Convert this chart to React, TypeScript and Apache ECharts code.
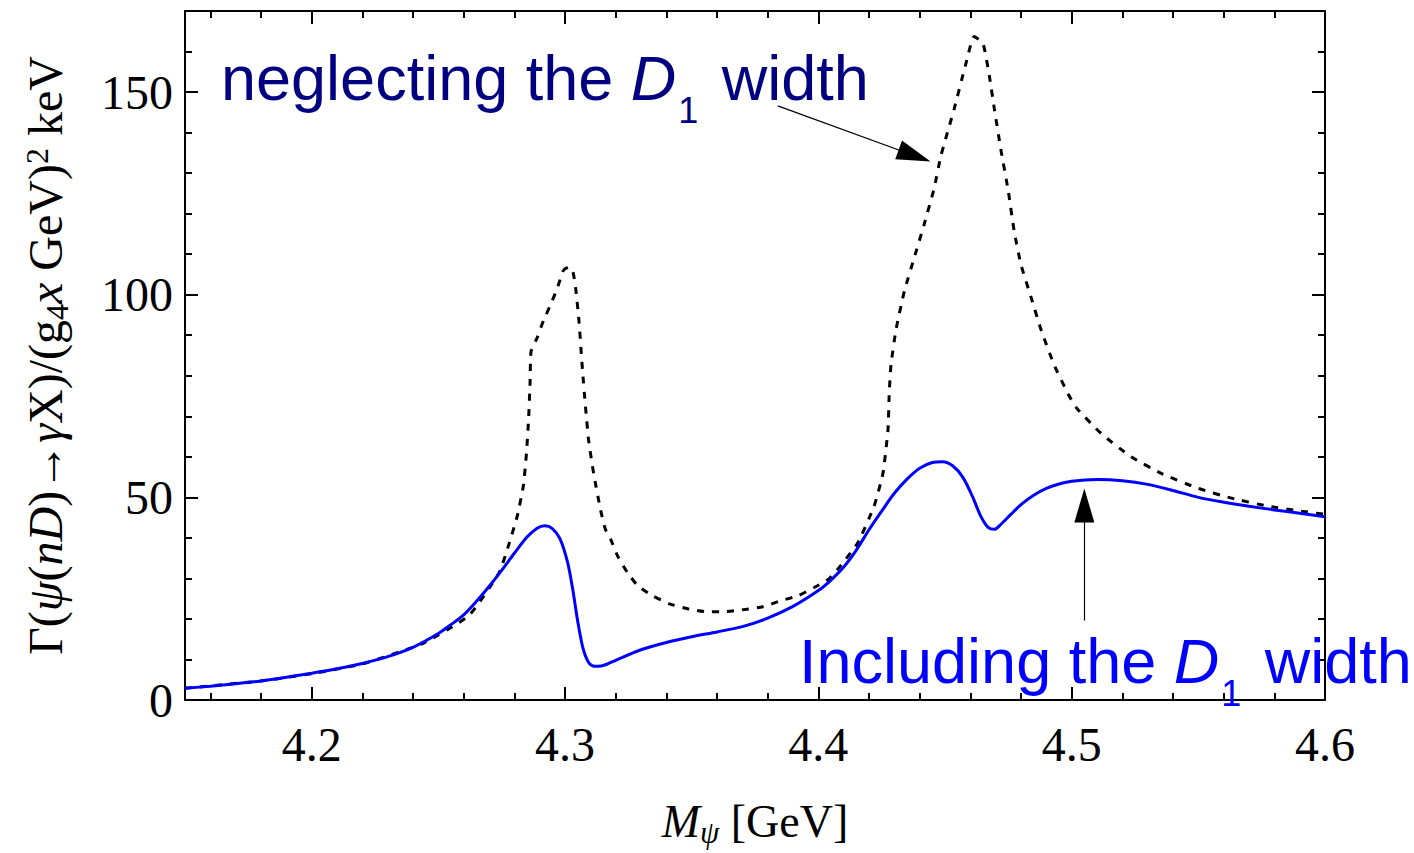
import React, { useEffect, useRef } from "react";
import * as echarts from "echarts";

// Mass values (GeV) and widths for the curve including the D1 width (blue)
const incX = [4.15, 4.16, 4.17, 4.18, 4.19, 4.2, 4.21, 4.22, 4.23, 4.24, 4.25, 4.255, 4.26, 4.265, 4.27, 4.275, 4.28, 4.285, 4.289, 4.292, 4.295, 4.298, 4.301, 4.303, 4.305, 4.307, 4.309, 4.311, 4.313, 4.316, 4.32, 4.33, 4.34, 4.35, 4.36, 4.37, 4.38, 4.39, 4.4, 4.405, 4.41, 4.415, 4.42, 4.425, 4.43, 4.435, 4.44, 4.445, 4.449, 4.453, 4.457, 4.461, 4.464, 4.467, 4.4695, 4.472, 4.476, 4.48, 4.485, 4.49, 4.495, 4.5, 4.51, 4.52, 4.53, 4.54, 4.55, 4.56, 4.57, 4.58, 4.59, 4.6];
const incY = [2.9, 3.4, 4.0, 4.7, 5.6, 6.6, 7.7, 9.0, 10.7, 13.0, 16.4, 18.6, 21.0, 24.3, 28.0, 32.0, 36.2, 40.2, 42.4, 43.0, 42.3, 39.8, 34.0, 27.5, 19.5, 13.0, 9.6, 8.4, 8.3, 8.7, 9.8, 12.4, 14.2, 15.6, 16.8, 18.1, 20.2, 23.1, 27.0, 29.6, 32.8, 37.0, 42.0, 46.6, 51.0, 54.5, 57.2, 58.6, 58.8, 57.8, 55.0, 50.0, 45.5, 42.6, 42.1, 43.3, 45.8, 48.2, 50.5, 52.2, 53.3, 54.0, 54.4, 54.1, 53.2, 51.7, 50.0, 48.8, 47.8, 46.9, 46.1, 45.2];

// Curve neglecting the D1 width (dotted)
const negX = [4.15, 4.18, 4.2, 4.22, 4.244, 4.262, 4.274, 4.278, 4.2812, 4.2836, 4.2848, 4.2856, 4.2862, 4.2866, 4.2891, 4.2915, 4.2943, 4.297, 4.2994, 4.3014, 4.303, 4.3042, 4.3055, 4.3069, 4.3081, 4.3093, 4.3113, 4.314, 4.316, 4.318, 4.3208, 4.3247, 4.3287, 4.3346, 4.3409, 4.3484, 4.3555, 4.3627, 4.3706, 4.378, 4.3852, 4.3919, 4.3982, 4.4042, 4.4081, 4.4155, 4.422, 4.4255, 4.4275, 4.428, 4.4287, 4.4306, 4.434, 4.4378, 4.4417, 4.4457, 4.4484, 4.4536, 4.458, 4.4615, 4.465, 4.4675, 4.4695, 4.472, 4.475, 4.4773, 4.48, 4.484, 4.488, 4.493, 4.4986, 4.502, 4.5117, 4.5235, 4.5354, 4.55, 4.563, 4.5777, 4.5907, 4.6];
const negY = [2.9, 4.7, 6.5, 8.9, 14.0, 20.8, 31.4, 38.7, 45.5, 53.0, 61.0, 69.0, 78.0, 86.0, 89.5, 93.6, 97.5, 101.7, 106.0, 106.8, 106.0, 101.7, 93.6, 81.4, 72.3, 64.2, 55.9, 47.0, 42.0, 39.7, 35.5, 31.4, 28.2, 25.7, 23.8, 22.5, 21.8, 21.8, 22.3, 23.0, 24.5, 25.7, 27.7, 29.9, 32.6, 38.7, 47.8, 55.9, 66.7, 76.0, 82.8, 91.2, 101.0, 109.0, 117.2, 126.2, 134.3, 145.8, 156.4, 163.7, 162.0, 154.0, 145.8, 136.0, 125.5, 115.7, 107.4, 99.3, 91.2, 82.8, 75.5, 72.0, 65.7, 60.0, 55.9, 52.2, 49.8, 47.8, 46.6, 45.8];

// Tick values
const xMajor = [4.2, 4.3, 4.4, 4.5, 4.6];
const xMinor = [4.16, 4.18, 4.22, 4.24, 4.26, 4.28, 4.32, 4.34, 4.36, 4.38, 4.42, 4.44, 4.46, 4.48, 4.52, 4.54, 4.56, 4.58];
const yMajor = [0, 50, 100, 150];
const yMinor = [10, 20, 30, 40, 60, 70, 80, 90, 110, 120, 130, 140, 160];

// Annotation arrows: [tail, arrow-head centre] in data coordinates
const arrowNeglect = [[4.384, 146.6], [4.438, 134.3]];
const arrowInclude = [[4.505, 19.6], [4.505, 48.0]];

const SERIF = '"Liberation Serif", "Times New Roman", Times, serif';
const SANS = '"Liberation Sans", Arial, Helvetica, sans-serif';

export default function App() {
  const ref = useRef<HTMLDivElement>(null);
  useEffect(() => {
    if (!ref.current) return;
    const chart = echarts.init(ref.current, null, { renderer: "svg" });
    const lineCommon = { show: true, onZero: false, lineStyle: { color: "#000", width: 2 } };
    const tickStyle = { color: "#000", width: 2 };
    const xBase = { type: "value", min: 4.15, max: 4.6, splitLine: { show: false } };
    const yBase = { type: "value", min: 0, max: 170, splitLine: { show: false } };
    const noLabel = { show: false };
    const option: any = {
      animation: false,
      backgroundColor: "#fff",
      grid: { left: 185, right: 89, top: 11, bottom: 148, containLabel: false },
      xAxis: [
        {
          ...xBase,
          position: "bottom",
          axisLine: lineCommon,
          axisTick: { show: true, inside: true, length: 13, lineStyle: tickStyle, customValues: xMajor },
          axisLabel: {
            customValues: xMajor,
            formatter: (v: number) => v.toFixed(1),
            margin: 20,
            fontSize: 48,
            fontFamily: SERIF,
            color: "#000",
          },
          name: "{i|M}{s|ψ}{r| [GeV]}",
          nameLocation: "middle",
          nameGap: 98,
          nameTextStyle: {
            color: "#000",
            fontFamily: SERIF,
            fontSize: 46,
            rich: {
              i: { fontFamily: SERIF, fontSize: 46, fontStyle: "italic", lineHeight: 52, verticalAlign: "top", color: "#000" },
              s: { fontFamily: SERIF, fontSize: 31, fontStyle: "italic", lineHeight: 31, padding: [19, 0, 0, 0], verticalAlign: "top", color: "#000" },
              r: { fontFamily: SERIF, fontSize: 46, lineHeight: 52, verticalAlign: "top", color: "#000" },
            },
          },
        },
        {
          ...xBase,
          position: "bottom",
          axisLine: { show: false, onZero: false },
          axisTick: { show: true, inside: true, length: 7, lineStyle: tickStyle, customValues: xMinor },
          axisLabel: noLabel,
        },
        {
          ...xBase,
          position: "top",
          axisLine: lineCommon,
          axisTick: { show: true, inside: true, length: 13, lineStyle: tickStyle, customValues: xMajor },
          axisLabel: noLabel,
        },
        {
          ...xBase,
          position: "top",
          axisLine: { show: false, onZero: false },
          axisTick: { show: true, inside: true, length: 7, lineStyle: tickStyle, customValues: xMinor },
          axisLabel: noLabel,
        },
      ],
      yAxis: [
        {
          ...yBase,
          position: "left",
          axisLine: lineCommon,
          axisTick: { show: true, inside: true, length: 13, lineStyle: tickStyle, customValues: yMajor },
          axisLabel: {
            customValues: yMajor,
            margin: 12,
            fontSize: 48,
            fontFamily: SERIF,
            color: "#000",
          },
          name: "{r|Γ(}{i|ψ}{r|(}{i|nD}{r|)→}{i|γ}{r|X)/(g}{sub|4}{i|x}{r| GeV)}{sup|2}{r| keV}",
          nameLocation: "middle",
          nameRotate: 90,
          nameGap: 112,
          nameTextStyle: {
            color: "#000",
            fontFamily: SERIF,
            fontSize: 48,
            rich: {
              r: { fontFamily: SERIF, fontSize: 48, lineHeight: 52, verticalAlign: "top", color: "#000" },
              i: { fontFamily: SERIF, fontSize: 48, fontStyle: "italic", lineHeight: 52, verticalAlign: "top", color: "#000" },
              sub: { fontFamily: SERIF, fontSize: 32, lineHeight: 32, padding: [20, 0, 0, 0], verticalAlign: "top", color: "#000" },
              sup: { fontFamily: SERIF, fontSize: 32, lineHeight: 32, verticalAlign: "top", color: "#000" },
            },
          },
        },
        {
          ...yBase,
          position: "left",
          axisLine: { show: false, onZero: false },
          axisTick: { show: true, inside: true, length: 7, lineStyle: tickStyle, customValues: yMinor },
          axisLabel: noLabel,
        },
        {
          ...yBase,
          position: "right",
          axisLine: lineCommon,
          axisTick: { show: true, inside: true, length: 13, lineStyle: tickStyle, customValues: yMajor },
          axisLabel: noLabel,
        },
        {
          ...yBase,
          position: "right",
          axisLine: { show: false, onZero: false },
          axisTick: { show: true, inside: true, length: 7, lineStyle: tickStyle, customValues: yMinor },
          axisLabel: noLabel,
        },
      ],
      series: [
        {
          name: "neglecting the D1 width",
          type: "line",
          xAxisIndex: 0,
          yAxisIndex: 0,
          data: negX.map((x, i) => [x, negY[i]]),
          showSymbol: false,
          smooth: 0.15,
          lineStyle: { color: "#000", width: 3, type: [7, 8], cap: "butt" },
          z: 2,
        },
        {
          name: "Including the D1 width",
          type: "line",
          xAxisIndex: 0,
          yAxisIndex: 0,
          data: incX.map((x, i) => [x, incY[i]]),
          showSymbol: false,
          smooth: 0.3,
          lineStyle: { color: "#0000ff", width: 3 },
          z: 3,
          markLine: {
            silent: true,
            symbol: ["none", "triangle"],
            symbolSize: [20, 34],
            label: { show: false },
            lineStyle: { color: "#000", width: 1.2, type: "solid" },
            emphasis: { disabled: true },
            itemStyle: { color: "#000" },
            data: [
              [{ coord: arrowNeglect[0] }, { coord: arrowNeglect[1] }],
              [{ coord: arrowInclude[0] }, { coord: arrowInclude[1] }],
            ],
          },
        },
      ],
      graphic: [
        {
          type: "text",
          x: 221,
          y: 46,
          z: 10,
          style: {
            text: "{a|neglecting the }{d|D}{s|1}{a| width}",
            fill: "#000080",
            align: "left",
            verticalAlign: "top",
            rich: {
              a: { fontFamily: SANS, fontSize: 63, lineHeight: 64, verticalAlign: "top", fill: "#000080" },
              d: { fontFamily: SANS, fontSize: 63, fontStyle: "italic", lineHeight: 64, verticalAlign: "top", fill: "#000080" },
              s: { fontFamily: SANS, fontSize: 36, lineHeight: 36, padding: [46, 6, 0, 2], verticalAlign: "top", fill: "#000080" },
            },
          },
        },
        {
          type: "text",
          x: 799,
          y: 629,
          z: 10,
          style: {
            text: "{a|Including the }{d|D}{s|1}{a| width}",
            fill: "#0000ff",
            align: "left",
            verticalAlign: "top",
            rich: {
              a: { fontFamily: SANS, fontSize: 63, lineHeight: 64, verticalAlign: "top", fill: "#0000ff" },
              d: { fontFamily: SANS, fontSize: 63, fontStyle: "italic", lineHeight: 64, verticalAlign: "top", fill: "#0000ff" },
              s: { fontFamily: SANS, fontSize: 36, lineHeight: 36, padding: [46, 6, 0, 2], verticalAlign: "top", fill: "#0000ff" },
            },
          },
        },
      ],
    };
    chart.setOption(option);
    return () => chart.dispose();
  }, []);
  return (
    <div
      ref={ref}
      style={{ position: "absolute", left: 0, top: 0, width: 1414, height: 853, background: "#fff" }}
    />
  );
}
